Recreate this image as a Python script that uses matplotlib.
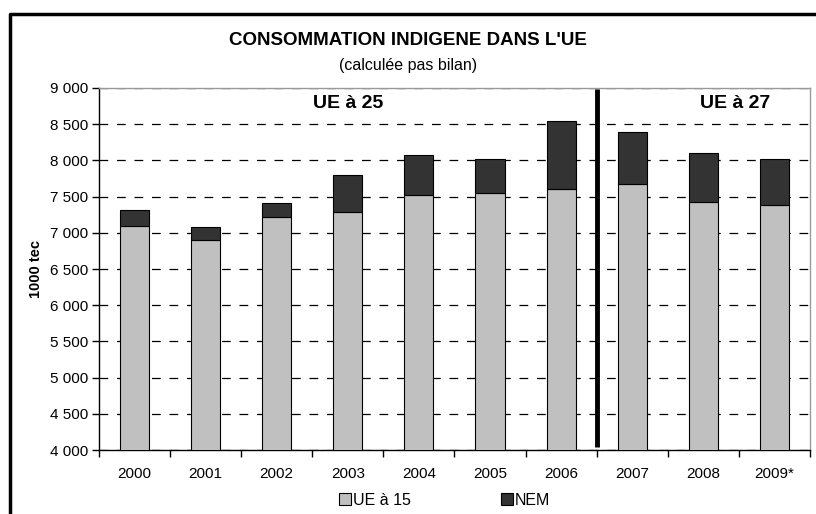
import matplotlib
matplotlib.use("Agg")
import matplotlib.pyplot as plt
from matplotlib.lines import Line2D
from matplotlib.patches import Patch
import numpy as np

plt.rcParams['font.family'] = ['Liberation Sans', 'DejaVu Sans']

# data (1000 tec)
years = ['2000', '2001', '2002', '2003', '2004', '2005', '2006', '2007', '2008', '2009*']
ue15 = [7095, 6905, 7215, 7290, 7525, 7550, 7610, 7675, 7430, 7385]
total = [7310, 7085, 7415, 7805, 8080, 8025, 8545, 8390, 8105, 8025]
nem = [t - u for t, u in zip(total, ue15)]

fig = plt.figure(figsize=(8.16, 5.14), dpi=100)
ax = fig.add_axes([0.1213, 0.1245, 0.8713, 0.7043])

x = np.arange(len(years))
ax.bar(x, ue15, width=0.41, color='#c0c0c0', edgecolor='black', linewidth=0.8, zorder=3, label='UE à 15')
ax.bar(x, nem, bottom=ue15, width=0.41, color='#333333', edgecolor='black', linewidth=0.8, zorder=3, label='NEM')

ax.set_xlim(-0.5, len(years) - 0.5)
ax.set_ylim(4000, 9000)
ax.set_yticks(np.arange(4000, 9001, 500))
ax.set_yticklabels([f"{v:,}".replace(',', ' ') for v in range(4000, 9001, 500)], fontsize=11)
ax.set_xticks(x)
ax.set_xticklabels(years, fontsize=11)
ax.set_xticks(np.arange(-0.5, len(years)), minor=True)
ax.tick_params(axis='x', which='major', length=0, pad=12)
ax.tick_params(axis='x', which='minor', length=5, width=1, direction='out')
ax.tick_params(axis='y', length=5, width=1, direction='out', pad=3)

ax.yaxis.grid(True, linestyle=(0, (7, 7)), color='black', linewidth=0.9, zorder=1)
ax.set_axisbelow(True)
for s in ['top', 'right']:
    ax.spines[s].set_color('#999999')
    ax.spines[s].set_linewidth(1)
ax.spines['left'].set_linewidth(1)
ax.spines['bottom'].set_linewidth(1)

ax.set_ylabel('1000 tec', fontsize=10.5, fontweight='bold', labelpad=5)

# separator between UE 25 and UE 27
ax.plot([6.5, 6.5], [4040, 8980], color='black', linewidth=3.5, zorder=4, solid_capstyle='butt')
ax.text(3.0, 8780, 'UE à 25', fontsize=14, fontweight='bold', ha='center', va='center')
ax.text(8.45, 8780, 'UE à 27', fontsize=14, fontweight='bold', ha='center', va='center')

fig.text(0.5, 0.922, "CONSOMMATION INDIGENE DANS L'UE", fontsize=13.5, fontweight='bold', ha='center', va='center')
fig.text(0.5, 0.873, '(calculée pas bilan)', fontsize=11.5, ha='center', va='center')

handles = [Patch(facecolor='#c0c0c0', edgecolor='black', linewidth=0.8, label='UE à 15'),
           Patch(facecolor='#333333', edgecolor='black', linewidth=0.8, label='NEM')]
fig.legend(handles=handles, loc='center', bbox_to_anchor=(0.545, 0.027), ncol=2, frameon=False,
           fontsize=11.5, handlelength=0.75, handleheight=0.75, handletextpad=0.15, columnspacing=5.6)

# outer chart frame (left and top edges visible)
fig.add_artist(Line2D([9.5 / 816, 9.5 / 816, 1.0], [0.0, 1 - 14 / 514, 1 - 14 / 514],
                      transform=fig.transFigure, color='black', linewidth=2.5))

fig.savefig('out.png', dpi=100)
